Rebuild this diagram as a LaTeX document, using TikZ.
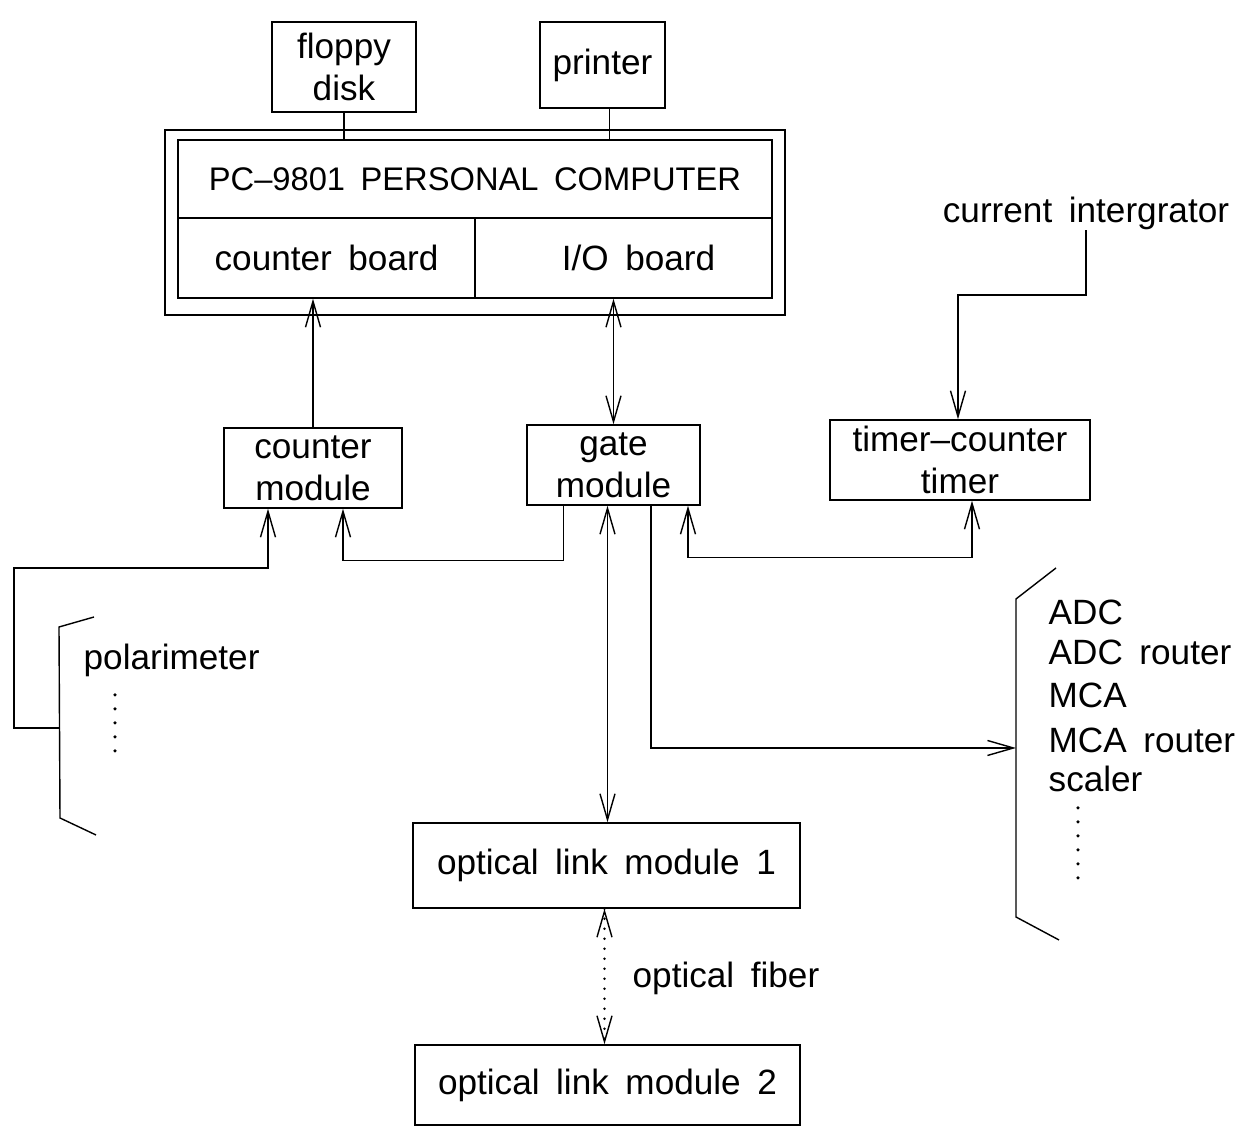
\documentclass[tikz,border=0pt]{standalone}
\usepackage{fontspec}
\setmainfont{Liberation Sans}[WordSpace=1.7]
\usepackage{tikz}
\usetikzlibrary{arrows.meta,calc}
\usetikzlibrary{positioning}
\tikzset{>={Straight Barb[length=2.6mm,width=1.5mm]}, line width=0.6pt,
every node/.style={font=\fontsize{10pt}{12pt}\selectfont},
box/.style={rectangle, draw, inner sep=0pt, align=center},
lbl/.style={inner sep=0pt, anchor=west},
dotcol/.style={line cap=round, line width=1pt, dash pattern=on 0pt off 0.14cm}}

\begin{document}
\begin{tikzpicture}
    \useasboundingbox (0,0) rectangle (12.43,-11.27);

    % Nodes
    \node[box, minimum width=1.44cm, minimum height=0.90cm] (floppy) at (3.44,-0.67) {floppy\\disk};
    \node[box, minimum width=1.25cm, minimum height=0.86cm] (printer) at (6.025,-0.65) {printer};
    \node[box, minimum width=5.94cm, minimum height=0.78cm, font=\fontsize{9.3pt}{11pt}\selectfont] (pc) at (4.75,-1.79) {PC--9801 PERSONAL COMPUTER};
    \node[box, minimum width=2.97cm, minimum height=0.80cm] (cntboard) at (3.265,-2.58) {counter board};
    \node[box, minimum width=2.97cm, minimum height=0.80cm] (ioboard) at (6.235,-2.58) {\hspace{0.3cm}I/O board};
    \draw (1.65,-1.30) rectangle (7.85,-3.15);

    \node[box, minimum width=1.78cm, minimum height=0.80cm] (cntmod) at (3.13,-4.68) {counter\\module};
    \node[box, minimum width=1.73cm, minimum height=0.80cm] (gatemod) at (6.135,-4.65) {gate\\module};
    \node[box, minimum width=2.60cm, minimum height=0.80cm] (timermod) at (9.60,-4.60) {timer--counter\\timer};
    \node[inner sep=0pt] (curint) at (10.86,-2.13) {current intergrator};

    \node[box, minimum width=3.87cm, minimum height=0.85cm] (link1) at (6.065,-8.655) {optical link module 1};
    \node[box, minimum width=3.85cm, minimum height=0.80cm] (link2) at (6.075,-10.85) {optical link module 2};
    \node[lbl] (fiber) at (6.32,-9.78) {optical fiber};

    % polarimeter group
    \draw (0.94,-6.17) -- (0.59,-6.27) -- (0.60,-8.18) -- (0.96,-8.35);
    \coordinate (polin) at (0.60,-7.28);
    \node[lbl] (polar) at (0.83,-6.60) {polarimeter};
    \draw[dotcol] (1.15,-6.95) -- (1.15,-7.53);

    % ADC group
    \draw (10.56,-5.68) -- (10.16,-5.99) -- (10.16,-9.17) -- (10.59,-9.40);
    \coordinate (adcin) at (10.16,-7.48);
    \node[lbl] (adc) at (10.48,-6.12) {ADC};
    \node[lbl] (adcr) at (10.48,-6.52) {ADC router};
    \node[lbl] (mca) at (10.48,-6.95) {MCA};
    \node[lbl] (mcar) at (10.48,-7.40) {MCA router};
    \node[lbl] (scaler) at (10.48,-7.79) {scaler};
    \draw[dotcol] (10.78,-8.08) -- (10.78,-8.81);

    % Edges
    \draw (floppy.south) -- (floppy.south |- pc.north);
    \draw ([xshift=0.07cm]printer.south) -- ([xshift=0.07cm]printer.south |- pc.north);
    \draw[->] (cntmod.north) -- (cntmod.north |- cntboard.south);
    \draw[<->] (gatemod.north) -- (gatemod.north |- ioboard.south);
    \draw[->] (curint.south) -- (10.86,-2.95) -| ([xshift=-0.02cm]timermod.north);
    \draw[->] (polin) -| (0.14,-5.68) -| ([xshift=-0.45cm]cntmod.south);
    \draw[->] ([xshift=-0.50cm]gatemod.south) -- ++(0,-0.55) -| ([xshift=0.30cm]cntmod.south);
    \draw[<->] ([xshift=-0.06cm]gatemod.south) -- ([xshift=-0.06cm]gatemod.south |- link1.north);
    \draw[->] ([xshift=0.375cm]gatemod.south) |- (adcin);
    \draw[<->] ([xshift=0.745cm]gatemod.south) -- ++(0,-0.52) -| ([xshift=0.12cm]timermod.south);

    % optical fiber: dotted shaft, solid tips
    \coordinate (fibtop) at ([xshift=-0.02cm]link1.south);
    \coordinate (fibbot) at ([xshift=-0.02cm]link1.south |- link2.north);
    \draw[dotcol, line width=0.8pt, dash pattern=on 0pt off 0.1cm] (fibtop) -- (fibbot);
    \draw[->] ($(fibtop)+(0,-0.01)$) -- (fibtop);
    \draw[->] ($(fibbot)+(0,0.01)$) -- (fibbot);
\end{tikzpicture}
\end{document}
